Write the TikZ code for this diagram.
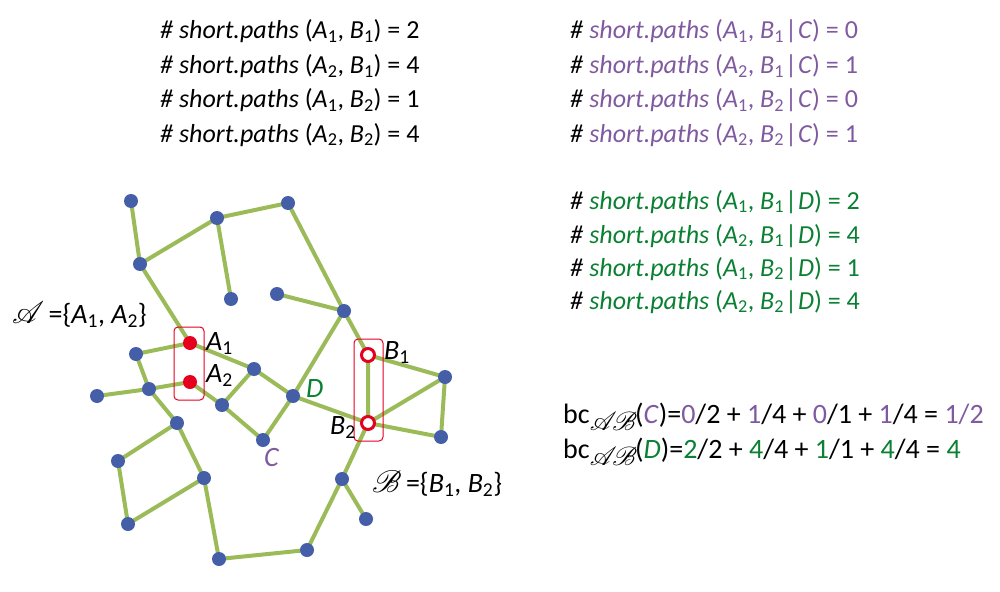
\documentclass[tikz,border=0pt]{standalone}
\usepackage{fontspec}
\usepackage{graphicx}
\usepackage{mathrsfs}
\setmainfont{Carlito}
\definecolor{edgeg}{RGB}{155,187,89}
\definecolor{nodeb}{RGB}{68,94,168}
\definecolor{redc}{RGB}{230,0,30}
\definecolor{cpurple}{RGB}{128,90,160}
\definecolor{cgreen}{RGB}{10,128,50}
\newcommand\mysb[1]{\textsubscript{#1}}
\newcommand\mypline[3]{\textit{\# short.paths} (\textit{A}\mysb{#1}, \textit{B}\mysb{#2}) = #3}
\newcommand\mycline[5]{\textit{\#} {\color{#4}\textit{short.paths} (\textit{A}\mysb{#1}, \textit{B}\mysb{#2}\kern1pt|\kern1pt\textit{#5}) = #3}}
\newcommand\scrsub{\raisebox{-7pt}{\fontsize{24}{24}\selectfont\scalebox{1.05}{\(\mathscr{A}\mkern-3mu\mathscr{B}\)}}\kern-2pt}
\newcommand\bigscr[1]{{\fontsize{24}{24}\selectfont\scalebox{1.25}{\(\mathscr{#1}\)}}}
\begin{document}
\begin{tikzpicture}[x=1pt,y=-1pt,
  vtx/.style={circle,fill=nodeb,inner sep=0pt,minimum size=14pt},
  anode/.style={circle,fill=redc,inner sep=0pt,minimum size=14pt},
  bnode/.style={circle,draw=redc,line width=3pt,fill=white,inner sep=0pt,minimum size=13pt},
  edge/.style={draw=edgeg,line width=4pt},
  setbox/.style={draw=redc,line width=1pt,rounded corners=4pt},
  txt/.style={anchor=base west,inner sep=0pt,font=\fontsize{26}{30}\selectfont},
  lbl/.style={anchor=base west,inner sep=0pt,font=\fontsize{28}{32}\selectfont},
  bc/.style={anchor=base west,inner sep=0pt,font=\fontsize{28}{32}\selectfont}]
\useasboundingbox (0,0) rectangle (1000,591);
% vertices
\coordinate (n1) at (131,201);
\coordinate (n2) at (217,218);
\coordinate (n3) at (288,203);
\coordinate (n4) at (140,264);
\coordinate (n5) at (231,299);
\coordinate (n6) at (277,294);
\coordinate (n7) at (344,311);
\coordinate (A1) at (190,343);
\coordinate (A2) at (190,382);
\coordinate (n8) at (136,354);
\coordinate (n9) at (149,389);
\coordinate (n10) at (97,396);
\coordinate (n11) at (254,369);
\coordinate (n12) at (222,405);
\coordinate (D) at (293,396);
\coordinate (C) at (263,440);
\coordinate (B1) at (368,355);
\coordinate (B2) at (368,423);
\coordinate (n13) at (445,377);
\coordinate (n14) at (441,437);
\coordinate (n15) at (177,423);
\coordinate (n16) at (118,461);
\coordinate (n17) at (204,478);
\coordinate (n18) at (128,524);
\coordinate (n19) at (342,479);
\coordinate (n20) at (366,519);
\coordinate (n21) at (219,559);
\coordinate (n22) at (307,550);
% edges
\path[edge] (n1)--(n4) (n4)--(n2) (n2)--(n3) (n2)--(n5) (n3)--(n7) (n6)--(n7)
  (n4)--(A1) (n7)--(B1) (n7)--(D) (A1)--(n11) (n8)--(A1) (n8)--(n9) (n9)--(n15)
  (n15)--(n17) (n15)--(n16) (n16)--(n18) (n18)--(n17) (n17)--(n21) (n21)--(n22)
  (n22)--(n19) (n19)--(B2) (n19)--(n20) (n10)--(n9) (n9)--(A2) (A2)--(n12)
  (n12)--(n11) (n11)--(D) (n12)--(C) (C)--(D) (D)--(B2) (B1)--(B2) (B1)--(n13)
  (n13)--(B2) (n13)--(n14) (B2)--(n14);
% boxes
\draw[setbox] (174,327) rectangle (204,400);
\draw[setbox] (354,339) rectangle (383,441);
% nodes
\foreach \v in {n1,n2,n3,n4,n5,n6,n7,n8,n9,n10,n11,n12,D,C,n13,n14,n15,n16,n17,n18,n19,n20,n21,n22}
  \node[vtx] (v\v) at (\v) {};
\node[anode] (vA1) at (A1) {};
\node[anode] (vA2) at (A2) {};
\node[bnode] (vB1) at (B1) {};
\node[bnode] (vB2) at (B2) {};
% labels
\node[lbl] (lA1) at (206,350) {\textit{A}\mysb{1}};
\node[lbl] (lA2) at (206,382) {\textit{A}\mysb{2}};
\node[lbl] (lB1) at (384,359) {\textit{B}\mysb{1}};
\node[lbl] (lB2) at (330,434) {\textit{B}\mysb{2}};
\node[lbl,text=cgreen] (lD) at (306,397) {\textit{D}};
\node[lbl,text=cpurple] (lC) at (264,466) {\textit{C}};
\node[lbl] (setA) at (12,323) {\bigscr{A}\kern-2pt\ =\{\textit{A}\mysb{1}, \textit{A}\mysb{2}\}};
\node[lbl] (setB) at (372,492) {\bigscr{B}\kern-2pt\ =\{\textit{B}\mysb{1}, \textit{B}\mysb{2}\}};
% top-left block
\node[txt] (t1) at (160,39) {\mypline{1}{1}{2}};
\node[txt] (t2) at (160,73.5) {\mypline{2}{1}{4}};
\node[txt] (t3) at (160,108) {\mypline{1}{2}{1}};
\node[txt] (t4) at (160,142) {\mypline{2}{2}{4}};
% purple block
\node[txt] (p1) at (570,39) {\mycline{1}{1}{0}{cpurple}{C}};
\node[txt] (p2) at (570,73.5) {\mycline{2}{1}{1}{cpurple}{C}};
\node[txt] (p3) at (570,108) {\mycline{1}{2}{0}{cpurple}{C}};
\node[txt] (p4) at (570,142) {\mycline{2}{2}{1}{cpurple}{C}};
% green block
\node[txt] (g1) at (570,209) {\mycline{1}{1}{2}{cgreen}{D}};
\node[txt] (g2) at (570,243) {\mycline{2}{1}{4}{cgreen}{D}};
\node[txt] (g3) at (570,276) {\mycline{1}{2}{1}{cgreen}{D}};
\node[txt] (g4) at (570,309) {\mycline{2}{2}{4}{cgreen}{D}};
% bc lines
\node[bc] (bc1) at (563,423) {bc\scrsub({\color{cpurple}\textit{C}})={\color{cpurple}0}/2 + {\color{cpurple}1}/4 + {\color{cpurple}0}/1 + {\color{cpurple}1}/4 = {\color{cpurple}1/2}};
\node[bc] (bc2) at (563,458) {bc\scrsub({\color{cgreen}\textit{D}})={\color{cgreen}2}/2 + {\color{cgreen}4}/4 + {\color{cgreen}1}/1 + {\color{cgreen}4}/4 = {\color{cgreen}4}};
\end{tikzpicture}
\end{document}
